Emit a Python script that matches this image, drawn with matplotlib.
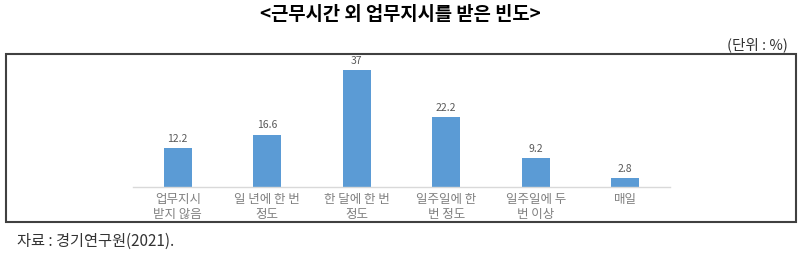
import matplotlib
matplotlib.use("Agg")
import matplotlib.pyplot as plt
from matplotlib.patches import Rectangle

plt.rcParams["font.family"] = ["Noto Sans CJK KR", "DejaVu Sans"]

title = "<근무시간 외 업무지시를 받은 빈도>"
unit_note = "(단위 : %)"
source_note = "자료 : 경기연구원(2021)."

categories = ["업무지시\n받지 않음", "일 년에 한 번\n정도", "한 달에 한 번\n정도",
              "일주일에 한\n번 정도", "일주일에 두\n번 이상", "매일"]
values = [12.2, 16.6, 37, 22.2, 9.2, 2.8]
value_labels = ["12.2", "16.6", "37", "22.2", "9.2", "2.8"]

W, H = 800, 254
fig = plt.figure(figsize=(W / 100, H / 100), dpi=100)

# outer frame around the chart area
fig.patches.append(Rectangle((6 / W, 1 - 222 / H), 790 / W, 168 / H,
                             transform=fig.transFigure, fill=False,
                             edgecolor="#404040", linewidth=1.5))

fig.text(0.5, 1 - 15 / H, title, ha="center", va="center",
         fontsize=13.5, fontweight="bold", color="black")
fig.text(788 / W, 1 - 45 / H, unit_note, ha="right", va="center",
         fontsize=10.5, color="#333333")
fig.text(17 / W, 1 - 241 / H, source_note, ha="left", va="center",
         fontsize=11, color="#333333")

ax = fig.add_axes([133 / W, 1 - 187 / H, 537 / W, 126.5 / H])
x = range(len(categories))
bars = ax.bar(x, values, width=0.31, color="#5B9BD5")
ax.set_xlim(-0.5, len(categories) - 0.5)
ax.set_ylim(0, 40)

for b, lab in zip(bars, value_labels):
    ax.annotate(lab, (b.get_x() + b.get_width() / 2, b.get_height()),
                xytext=(0, 3), textcoords="offset points",
                ha="center", va="bottom", fontsize=7.5, color="#595959")

ax.set_xticks(list(x))
ax.set_xticklabels(categories, fontsize=9, color="#808080", linespacing=1.25)
ax.tick_params(axis="x", length=0, pad=4)
ax.set_yticks([])
for side in ["top", "right", "left"]:
    ax.spines[side].set_visible(False)
ax.spines["bottom"].set_color("#d9d9d9")
ax.spines["bottom"].set_linewidth(1)

fig.savefig("out.png", dpi=100)
